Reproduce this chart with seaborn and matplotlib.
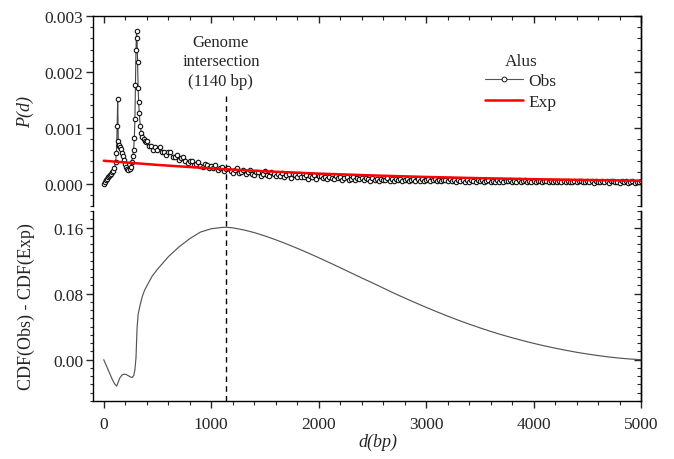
import numpy as np
import pandas as pd
import matplotlib
matplotlib.use("Agg")
import matplotlib.pyplot as plt
import seaborn as sns
from matplotlib.lines import Line2D
from matplotlib.ticker import MultipleLocator, FormatStrFormatter

# ---------------- data ----------------
# Observed P(d), peak region (values in units of 1e-4)
d_obs_peak = [0, 10, 20, 30, 40, 50, 60, 70, 80, 90, 100, 110, 118, 125, 130, 135, 140, 145,
              150, 160, 170, 180, 190, 200, 210, 220, 230, 240, 250, 260, 270, 278, 285, 290,
              295, 300, 305, 310, 315, 320, 325, 330, 340, 350, 360, 370, 380, 390]
p_obs_peak_e4 = [0.0, 0.3, 0.6, 0.8, 1.1, 1.3, 1.6, 1.8, 2.0, 2.3, 2.8, 3.8, 5.5, 10.4, 15.2, 7.6,
                 6.8, 7.0, 6.5, 6.2, 5.5, 5.0, 4.2, 3.5, 3.0, 2.7, 2.5, 2.6, 3.0, 3.8, 4.9, 6.1,
                 8.2, 11.5, 17.6, 23.9, 27.3, 26.0, 21.7, 17.1, 14.6, 12.7, 10.3, 9.1, 8.3, 7.9,
                 7.6, 7.4]
# Observed P(d), tail 400..5000 bp every 20 bp (units of 1e-4), noisy band
d_obs_tail = list(range(400, 5001, 20))
p_obs_tail_e4 = [
    7.6, 6.65, 6.8, 6.1, 6.6, 6.05, 6.5, 5.65, 5.7, 5.05, 5.6, 5.65, 4.8, 4.85, 5.1, 4.25,
    4.6, 4.85, 4.0, 3.65, 4.1, 4.1, 3.4, 3.6, 3.9, 3.2, 2.9, 3.5, 3.25, 2.75, 3.2,
    2.75, 3.25, 2.4, 2.85, 2.95, 2.3, 2.55, 2.85, 2.22, 1.95, 2.5, 2.77, 1.9, 2.1, 2.45, 1.68,
    2.15, 2.4, 1.78, 1.63, 2.1, 2.15, 1.45, 1.8, 2.18, 1.55, 1.3, 2.0, 1.75, 1.35, 1.8, 1.4,
    1.95, 1.25, 1.5, 1.8, 1.05, 1.65, 1.5, 1.1, 1.76, 1.15, 1.2, 1.61, 0.88, 1.45, 1.25,
    1.51, 0.9, 1.3,
    1.42, 0.97, 1.21, 0.86, 1.27, 1.07, 0.85, 1.28, 0.93, 1.17, 0.72, 1.03, 1.13, 0.73, 0.89,
    1.13, 0.61, 0.93, 0.75, 1.02, 0.61, 0.97, 0.78, 0.52, 1.01, 0.67, 0.88, 0.53, 0.92, 0.57,
    0.7, 0.94, 0.485, 0.76, 0.495, 0.87, 0.585, 0.84, 0.405, 0.73, 0.845, 0.46, 0.635, 0.81,
    0.425, 0.76, 0.54, 0.815, 0.43, 0.69,
    0.765, 0.47, 0.595, 0.78, 0.425, 0.66, 0.385, 0.70, 0.565, 0.40, 0.745, 0.47, 0.675, 0.35,
    0.615, 0.53, 0.685, 0.36, 0.615, 0.38, 0.695, 0.42, 0.335, 0.65, 0.485, 0.61, 0.285, 0.55,
    0.625, 0.33, 0.455, 0.29, 0.637, 0.364, 0.571, 0.278, 0.515, 0.432, 0.589, 0.236, 0.523,
    0.34, 0.578, 0.286, 0.414, 0.602, 0.25, 0.488, 0.306, 0.534,
    0.28, 0.548, 0.396, 0.244, 0.482, 0.54, 0.298, 0.386, 0.234, 0.502, 0.32, 0.528, 0.256,
    0.434, 0.222, 0.49, 0.368, 0.276, 0.514, 0.212, 0.42, 0.478, 0.236, 0.354, 0.502, 0.26,
    0.428, 0.196, 0.464, 0.282, 0.34, 0.488, 0.216, 0.424, 0.182, 0.39, 0.448, 0.236, 0.324,
    0.172, 0.47, 0.258, 0.406, 0.194, 0.312, 0.43, 0.158, 0.366, 0.224, 0.422]

# Expected (exponential) P(d), units of 1e-4
d_exp = [0, 500, 1000, 1500, 2000, 2500, 3000, 3500, 4000, 4500, 5000]
p_exp_e4 = [4.1, 3.35, 2.72, 2.21, 1.80, 1.47, 1.20, 0.98, 0.80, 0.65, 0.53]

# CDF(Obs) - CDF(Exp)
d_cdf = [0, 20, 40, 60, 80, 100, 120, 135, 150, 170, 190, 210, 230, 250, 265, 280, 290, 300,
         310, 320, 340, 360, 380, 400, 450, 500, 600, 700, 800, 900, 1000, 1100, 1140] + \
        list(range(1200, 5001, 100))
cdf_diff = [0.000, -0.006, -0.012, -0.018, -0.024, -0.029, -0.032, -0.027, -0.022, -0.0185,
            -0.0175, -0.018, -0.0195, -0.021, -0.0215, -0.019, -0.012, 0.002, 0.038, 0.055,
            0.067, 0.077, 0.084, 0.089, 0.101, 0.1095, 0.1245, 0.1365, 0.1465, 0.1545, 0.1585,
            0.1601, 0.1604,
            0.1596, 0.1572, 0.1539, 0.1498, 0.1452, 0.1402, 0.1349, 0.1293, 0.1235, 0.1175,
            0.1114, 0.1052, 0.0990, 0.0930, 0.0868, 0.0806, 0.0747, 0.0690, 0.0634, 0.0580,
            0.0528, 0.0478, 0.0431, 0.0386, 0.0343, 0.0303, 0.0266, 0.0231, 0.0198, 0.0168,
            0.0140, 0.0114, 0.0090, 0.0069, 0.0050, 0.0033, 0.0019, 0.0008, 0.0]

intersection_bp = 1140
legend_title = "Alus"
series_labels = ["Obs", "Exp"]
x_ticks = [0, 1000, 2000, 3000, 4000, 5000]

# ---------------- tables ----------------
obs = pd.DataFrame({"d": d_obs_peak + d_obs_tail,
                    "p": np.array(p_obs_peak_e4 + p_obs_tail_e4) * 1e-4})
exp_df = pd.DataFrame({"d": d_exp, "p": np.array(p_exp_e4) * 1e-4})
cdf = pd.DataFrame({"d": d_cdf, "v": cdf_diff})

# ---------------- style ----------------
sns.set_theme(style="white")
plt.rcParams["font.family"] = ["Liberation Serif", "DejaVu Serif"]
FS = 12.5

fig = plt.figure(figsize=(6.74, 4.60), dpi=100)
W, H = 674, 460
L, R = 93, 641
ax1 = fig.add_axes([L / W, 1 - 207 / H, (R - L) / W, 190 / H])
ax2 = fig.add_axes([L / W, 1 - 402 / H, (R - L) / W, 190 / H])

# top panel
sns.lineplot(data=obs, x="d", y="p", ax=ax1, estimator=None, sort=False,
             color="#444444", lw=0.8, marker="o", markersize=3.2,
             markerfacecolor="white", markeredgecolor="#111111", markeredgewidth=0.8)
sns.lineplot(data=exp_df, x="d", y="p", ax=ax1, estimator=None, color="red", lw=1.8)

# bottom panel
sns.lineplot(data=cdf, x="d", y="v", ax=ax2, estimator=None, color="#555555", lw=0.85)

for ax in (ax1, ax2):
    ax.set_xlim(-100, 5000)
    for s in ax.spines.values():
        s.set_color("black")
        s.set_linewidth(1.0)
    ax.set_facecolor("white")

ax1.set_ylim(-0.0004, 0.003)
ax2.set_ylim(-0.05, 0.18)
ax1.spines["bottom"].set_visible(False)
ax2.spines["top"].set_visible(False)

# ticks: top panel
ax1.xaxis.set_major_locator(MultipleLocator(1000))
ax1.xaxis.set_minor_locator(MultipleLocator(200))
ax1.tick_params(axis="x", which="both", bottom=False, top=True, labelbottom=False,
                labeltop=False, direction="in")
ax1.tick_params(axis="x", which="major", length=5, width=1)
ax1.tick_params(axis="x", which="minor", length=3, width=0.8)
ax1.yaxis.set_major_locator(MultipleLocator(0.001))
ax1.yaxis.set_minor_locator(MultipleLocator(0.0002))
ax1.yaxis.set_major_formatter(FormatStrFormatter("%.3f"))
ax1.tick_params(axis="y", which="both", left=True, right=False, direction="out",
                labelsize=FS, pad=2)
ax1.tick_params(axis="y", which="major", length=5, width=1)
ax1.tick_params(axis="y", which="minor", length=2.5, width=0.8)
sec1 = ax1.secondary_yaxis("right")
sec1.yaxis.set_major_locator(MultipleLocator(0.001))
sec1.yaxis.set_minor_locator(MultipleLocator(0.0002))
sec1.tick_params(which="both", direction="in", labelright=False)
sec1.tick_params(which="major", length=5, width=1)
sec1.tick_params(which="minor", length=3, width=0.8)
sec1.spines["right"].set_linewidth(1.0)

# ticks: bottom panel
ax2.set_xticks(x_ticks)
ax2.xaxis.set_minor_locator(MultipleLocator(200))
ax2.tick_params(axis="x", which="both", bottom=True, top=False, direction="out",
                labelsize=FS, pad=6)
ax2.tick_params(axis="x", which="major", length=5, width=1)
ax2.tick_params(axis="x", which="minor", length=3, width=0.8)
ax2.yaxis.set_major_locator(MultipleLocator(0.08))
ax2.yaxis.set_minor_locator(MultipleLocator(0.01))
ax2.yaxis.set_major_formatter(FormatStrFormatter("%.2f"))
ax2.tick_params(axis="y", which="both", left=True, right=False, direction="out",
                labelsize=FS, pad=2)
ax2.tick_params(axis="y", which="major", length=5, width=1)
ax2.tick_params(axis="y", which="minor", length=2.5, width=0.8)
sec2 = ax2.secondary_yaxis("right")
sec2.yaxis.set_major_locator(MultipleLocator(0.08))
sec2.yaxis.set_minor_locator(MultipleLocator(0.01))
sec2.tick_params(which="both", direction="in", labelright=False)
sec2.tick_params(which="major", length=5, width=1)
sec2.tick_params(which="minor", length=3, width=0.8)
sec2.spines["right"].set_linewidth(1.0)

# labels
ax1.set_xlabel("")
ax1.set_ylabel("P(d)", fontsize=FS + 0.5, style="italic")
ax2.set_ylabel("CDF(Obs) - CDF(Exp)", fontsize=FS + 0.5)
ax2.set_xlabel("d(bp)", fontsize=FS + 0.5, style="italic")
ax1.yaxis.set_label_coords(-0.108, 0.5)
ax2.yaxis.set_label_coords(-0.105, 0.5)
ax2.xaxis.set_label_coords(0.52, -0.165)

# dashed intersection line
ax1.plot([intersection_bp, intersection_bp], [0.00156, -0.0006], color="black", lw=1.0,
         ls=(0, (4, 3)), clip_on=False, zorder=1)
ax2.axvline(intersection_bp, color="black", lw=1.0, ls=(0, (4, 3)), zorder=1)
ax1.text(1090, 0.00219, "Genome\nintersection\n(1140 bp)", ha="center", va="center",
         fontsize=FS - 0.5, linespacing=1.3)

# legend
handles = [Line2D([], [], color="#555555", lw=0.8, marker="o", markersize=3.5,
                  markerfacecolor="white", markeredgecolor="black", markeredgewidth=0.6),
           Line2D([], [], color="red", lw=1.8)]
leg = ax1.legend(handles, series_labels, title=legend_title, frameon=False,
                 loc="upper left", bbox_to_anchor=(0.70, 0.852), fontsize=FS,
                 title_fontsize=FS, handlelength=2.2, handletextpad=0.3,
                 labelspacing=0.25, borderpad=0.0, numpoints=1)

fig.savefig("out.png", dpi=100, facecolor="white")
